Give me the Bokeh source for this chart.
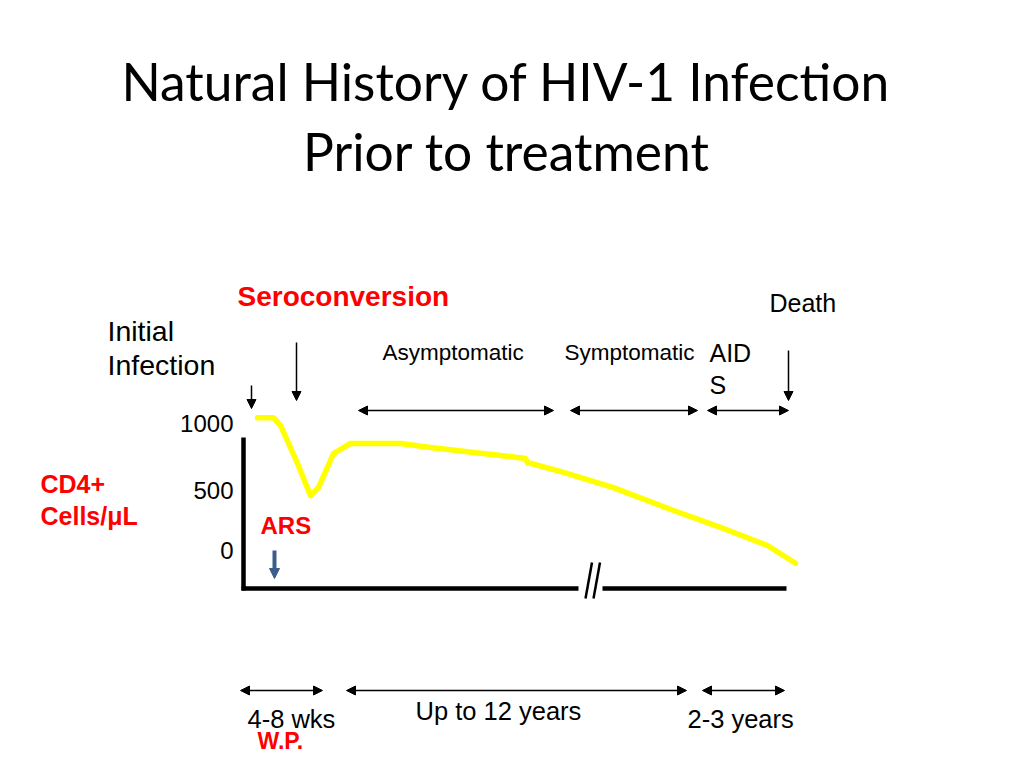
from bokeh.plotting import figure
from bokeh.models import Range1d, Arrow, NormalHead
from bokeh.core.properties import value
from bokeh.embed import file_html
from bokeh.resources import INLINE

# ---- data ----
# CD4+ curve: timeline position (diagram units) and CD4 count (cells/uL)
time_pos = [257, 273, 280, 297, 310, 318, 333, 350, 400, 430, 500, 525, 527, 563, 613, 673, 720, 767, 795]
cd4_vals = [1020, 1020, 965, 693, 464, 521, 764, 836, 836, 807, 750, 729, 700, 629, 521, 357, 236, 107, -20]
tick_labels = ["1000", "500", "0"]
tick_vals = [1000, 500, 0]

title_lines = ["Natural History of HIV-1 Infection", "Prior to treatment"]

# ---- figure: primary ranges in page pixels ----
W, H = 1008, 752
p = figure(width=W, height=H, output_backend="svg", toolbar_location=None,
           x_range=Range1d(0, 1008), y_range=Range1d(752, 0),
           min_border=0, outline_line_color=None)
p.axis.visible = False
p.grid.visible = False
p.background_fill_color = "white"

# CD4 scale: 1000 -> y 420, 0 -> y 560
k = 0.14
p.extra_y_ranges = {"cd4": Range1d((560 - 752) / k, (560 - 0) / k)}

AR = value("Liberation Sans")

def txt(x, y, s, size, color="black", bold=False, align="left", font=AR):
    p.text(x=[x], y=[y], text=[s], text_font=font, text_font_size=size,
           text_color=color, text_align=align, text_baseline="middle",
           text_font_style="bold" if bold else "normal")

# title
TF = value("Lato")
txt(506, 80, title_lines[0], "51.5px", align="center", font=TF)
txt(506, 150, title_lines[1], "51.5px", align="center", font=TF)

# axes of the diagram
p.line([243, 243], [437, 590], line_color="black", line_width=4.5)
p.line([241, 578], [588, 588], line_color="black", line_width=4.5)
p.line([602, 786], [588, 588], line_color="black", line_width=4.5)
p.line([585, 591.5], [598, 562], line_color="black", line_width=2.5)
p.line([593, 599.5], [598, 562], line_color="black", line_width=2.5)

# curve
p.line(time_pos, cd4_vals, y_range_name="cd4", line_color="#FFFF00",
       line_width=5.5, line_join="round", line_cap="round")

# tick labels (placed beside the axis)
tick_y = [423, 490, 550]
for lab, ty in zip(tick_labels, tick_y):
    txt(233, ty, lab, "24px", align="right")

def arrow(x0, y0, x1, y1, both=False, color="black", lw=1.5, size=9):
    a = Arrow(end=NormalHead(size=size, fill_color=color, line_color=color, line_width=1),
              start=NormalHead(size=size, fill_color=color, line_color=color, line_width=1) if both else None,
              x_start=x0, y_start=y0, x_end=x1, y_end=y1,
              line_color=color, line_width=lw)
    p.add_layout(a)

# top arrows
arrow(251, 385, 251, 408)
arrow(296, 342, 296, 400)
arrow(788, 350, 788, 400)
arrow(358, 410, 553, 410, both=True)
arrow(570, 410, 697, 410, both=True)
arrow(707, 410, 788, 410, both=True)

# ARS arrow
arrow(274, 550, 274, 578, color="#3B5E8C", lw=4, size=10)

# bottom arrows
arrow(240, 690, 322, 690, both=True)
arrow(346, 690, 686, 690, both=True)
arrow(702, 690, 784, 690, both=True)

# labels
txt(237, 296, "Seroconversion", "28px", color="#FF0000", bold=True)
txt(107, 330, "Initial", "28.5px")
txt(107, 364, "Infection", "28.5px")
txt(769, 302, "Death", "25px")
txt(382, 352, "Asymptomatic", "22.5px")
txt(564, 352, "Symptomatic", "22.5px")
txt(709, 352, "AID", "25px")
txt(709, 384, "S", "25px")
txt(40, 483, "CD4+", "25px", color="#FF0000", bold=True)
txt(40, 515, "Cells/μL", "25px", color="#FF0000", bold=True)
txt(260, 525, "ARS", "24px", color="#FF0000", bold=True)
txt(247, 718, "4-8 wks", "25.5px")
txt(257, 740, "W.P.", "23px", color="#FF0000", bold=True)
txt(415, 710, "Up to 12 years", "25.5px")
txt(687, 718, "2-3 years", "25.5px")

open("out.html", "w").write(file_html(p, INLINE))
